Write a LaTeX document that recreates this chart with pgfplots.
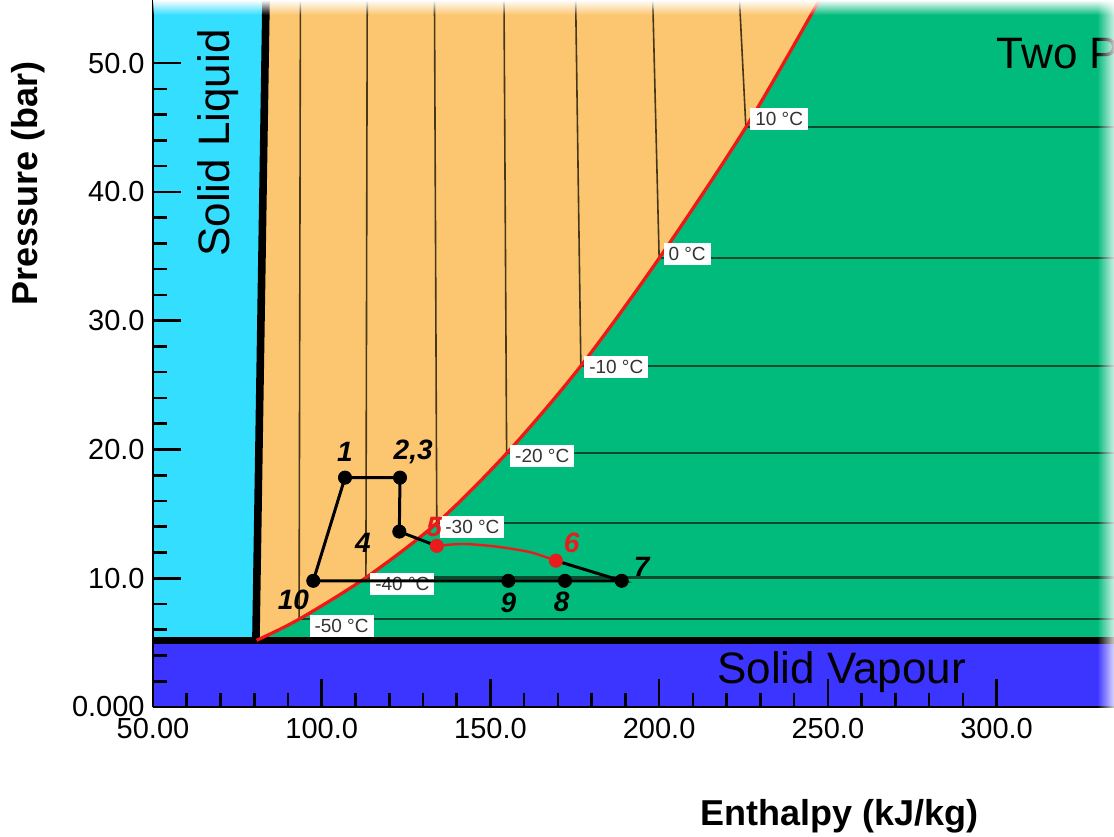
\documentclass[border=0pt]{standalone}
\usepackage{fontspec}
\setmainfont{Liberation Sans}
\usepackage{pgfplots}
\pgfplotsset{compat=1.18}
\usetikzlibrary{fadings}

\definecolor{solidliq}{RGB}{52,222,255}
\definecolor{liquid}{RGB}{252,198,112}
\definecolor{twophase}{RGB}{0,187,123}
\definecolor{solidvap}{RGB}{60,52,255}
\definecolor{satred}{RGB}{240,24,20}
\definecolor{isoliq}{RGB}{70,55,25}
\definecolor{isovap}{RGB}{10,75,45}
\definecolor{cyclered}{RGB}{232,28,28}

\tikzset{
  templabel/.style={anchor=west, fill=white, text=black!80, inner xsep=2.5pt, inner ysep=1.5pt,
    minimum height=11pt, font=\fontsize{9.5}{10}\selectfont},
  statelabel/.style={font=\bfseries\itshape\fontsize{14}{16}\selectfont, inner sep=0pt},
}

\begin{document}
\begin{tikzpicture}
\begin{axis}[
  at={(0pt,0pt)}, anchor=south west,
  scale only axis, width=480.5pt, height=353.5pt,
  xmin=50, xmax=334.8, ymin=0, ymax=54.9,
  axis x line*=bottom, axis y line*=left,
  axis line style={line width=1.3pt, -},
  axis on top,
  xtick={50,100,...,300}, xticklabels={50.00,100.0,150.0,200.0,250.0,300.0},
  ytick={0,10,...,50}, yticklabels={0.000,10.0,20.0,30.0,40.0,50.0},
  minor x tick num=4, minor y tick num=4,
  tick align=inside,
  major tick length=14pt, minor tick length=7pt,
  tick style={black, line width=1.3pt},
  tick label style={font=\fontsize{14.5}{16}\selectfont},
  xticklabel style={inner sep=1pt, yshift=-4.5pt},
  yticklabel style={inner sep=1pt, xshift=-3pt},
  xlabel={Enthalpy (kJ/kg)}, ylabel={Pressure (bar)},
  label style={font=\bfseries\fontsize{18}{20}\selectfont},
  xlabel style={at={(axis description cs:0.7144,-0.154)}, anchor=center},
  ylabel style={at={(axis description cs:-0.130,0.741)}, anchor=center},
]

% liquid region: everything right of the melting line above the triple point
\addplot[draw=none, fill=liquid] coordinates {(80.5,5.18) (350,5.18) (350,60) (83.8,60)} -- cycle;

% two-phase region below the saturated liquid line
\addplot[draw=none, fill=twophase, smooth] coordinates {
  (80.7,5.18) (93.3,6.82) (113.1,10.05) (134.1,14.28) (154.8,19.70)
  (176.8,26.49) (200.0,34.85) (225.7,45.02) (247.5,54.9)} \closedcycle;
\addplot[draw=none, fill=twophase] coordinates {(247.2,0) (350,0) (350,60) (247.2,60)} -- cycle;

% solid-vapour and solid-liquid regions
\addplot[draw=none, fill=solidvap] coordinates {(40,-1) (350,-1) (350,5.18) (40,5.18)} -- cycle;
\addplot[draw=none, fill=solidliq] coordinates {(40,5.18) (80.5,5.18) (83.8,60) (40,60)} -- cycle;

% isotherms in the liquid region
\addplot[isoliq, line width=0.8pt] coordinates {(93.3,6.82) (93.7,56)};
\addplot[isoliq, line width=0.8pt] coordinates {(113.1,10.05) (113.5,56)};
\addplot[isoliq, line width=0.8pt] coordinates {(134.1,14.28) (133.4,56)};
\addplot[isoliq, line width=0.8pt] coordinates {(154.8,19.70) (154.0,56)};
\addplot[isoliq, line width=0.8pt] coordinates {(176.8,26.49) (175.2,56)};
\addplot[isoliq, line width=0.8pt] coordinates {(200.0,34.85) (198.0,56)};
\addplot[isoliq, line width=0.8pt] coordinates {(225.7,45.02) (223.6,56)};

% isotherms (isobars) in the two-phase region
\addplot[isovap, line width=1.1pt] coordinates {(93.3,6.82) (350,6.82)};
\addplot[isovap, line width=1.1pt] coordinates {(113.1,10.05) (350,10.05)};
\addplot[isovap, line width=1.1pt] coordinates {(134.1,14.28) (350,14.28)};
\addplot[isovap, line width=1.1pt] coordinates {(154.8,19.70) (350,19.70)};
\addplot[isovap, line width=1.1pt] coordinates {(176.8,26.49) (350,26.49)};
\addplot[isovap, line width=1.1pt] coordinates {(200.0,34.85) (350,34.85)};
\addplot[isovap, line width=1.1pt] coordinates {(225.7,45.02) (350,45.02)};

% phase boundaries
\addplot[black, line width=3.5pt] coordinates {(40,5.18) (350,5.18)};
\addplot[black, line width=3.8pt] coordinates {(80.5,5.18) (83.8,60)};
\addplot[satred, line width=1.6pt, smooth] coordinates {
  (80.7,5.18) (93.3,6.82) (113.1,10.05) (134.1,14.28) (154.8,19.70)
  (176.8,26.49) (200.0,34.85) (225.7,45.02) (247.5,54.9)};

% temperature labels
\node[templabel, xshift=5pt, yshift=-3.5pt] at (axis cs:93.3,6.82) {-50 °C};
\node[templabel, xshift=2pt, yshift=-3pt] at (axis cs:113.1,10.05) {-40 °C};
\node[templabel, xshift=1.6pt, yshift=-2pt] at (axis cs:134.1,14.28) {-30 °C};
\node[templabel, xshift=1.6pt, yshift=-1.5pt] at (axis cs:154.8,19.70) {-20 °C};
\node[templabel, xshift=1.5pt, yshift=-0.5pt] at (axis cs:176.8,26.49) {-10 °C};
\node[templabel, xshift=2pt, yshift=2pt] at (axis cs:200.0,34.85) {0 °C};
\node[templabel, xshift=2pt, yshift=4pt] at (axis cs:225.7,45.02) {10 °C};

% region names
\node[rotate=90, font=\fontsize{22}{24}\selectfont] at (axis cs:69.3,43.8) {Solid Liquid};
\node[font=\fontsize{22}{24}\selectfont] at (axis cs:254.1,2.72) {Solid Vapour};
\node[anchor=base west, inner sep=0pt, font=\fontsize{22}{24}\selectfont] at (axis cs:300,49.6) {Two Phase};

% refrigeration cycle
\addplot[black, line width=1.5pt] coordinates {
  (134.1,12.51) (123.0,13.62) (123.2,17.81) (106.9,17.81) (97.5,9.8) (188.9,9.8) (169.4,11.36)};
\addplot[cyclered, line width=1.2pt, smooth] coordinates {
  (134.1,12.51) (142.0,12.66) (151.9,12.45) (161.8,12.02) (169.4,11.36)};
\addplot[only marks, mark=*, mark size=3.3pt, black] coordinates {
  (97.5,9.8) (106.9,17.81) (123.2,17.81) (123.0,13.62) (155.3,9.8) (172.1,9.8) (188.9,9.8)};
\addplot[only marks, mark=*, mark size=3.3pt, cyclered, mark options={fill=cyclered, draw=cyclered}] coordinates {
  (134.1,12.51) (169.4,11.36)};

\node[statelabel] at (axis cs:106.9,19.83) {1};
\node[statelabel] at (axis cs:127.1,19.83) {2,3};
\node[statelabel] at (axis cs:112.2,12.74) {4};
\node[statelabel, text=cyclered] at (axis cs:133.3,14.0) {5};
\node[statelabel, text=cyclered] at (axis cs:174.1,12.74) {6};
\node[statelabel] at (axis cs:194.8,10.9) {7};
\node[statelabel] at (axis cs:171.1,8.18) {8};
\node[statelabel] at (axis cs:155.3,8.08) {9};
\node[statelabel] at (axis cs:91.6,8.31) {10};
\end{axis}

% soft edges along the top and right of the diagram
\fill[white, path fading=south] (0pt,346pt) rectangle (480.5pt,353.5pt);
\fill[white, fill opacity=0.8, path fading=west] (472pt,-10pt) rectangle (480.5pt,353.5pt);

\pgfresetboundingbox
\path[use as bounding box] (-76.5pt,-64.5pt) rectangle (480.5pt,353.5pt);
\end{tikzpicture}
\end{document}
